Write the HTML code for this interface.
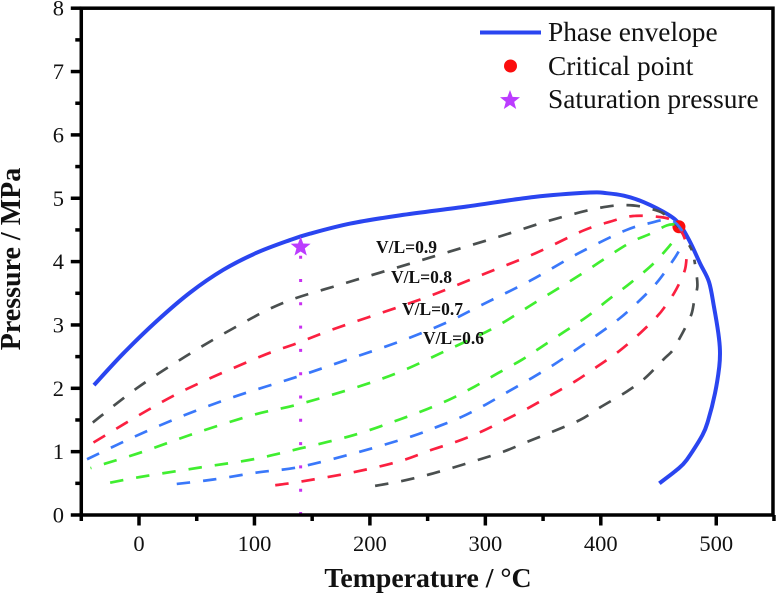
<!DOCTYPE html>
<html lang="en">
<head>
<meta charset="utf-8">
<title>Phase envelope chart</title>
<style>
html,body{margin:0;padding:0;background:#fff;}
#chart{display:block;width:776px;height:593px;font-family:"Liberation Serif",serif;}
</style>
</head>
<body>
<svg id="chart" xmlns="http://www.w3.org/2000/svg" width="776" height="593" viewBox="0 0 776 593">
  <rect x="0" y="0" width="776" height="593" fill="#ffffff"/>
  <g id="series" fill="none"></g>
  <g id="axes"></g>
  <g font-size="17.5" font-weight="bold" fill="#111">
    <text x="376" y="253">V/L=0.9</text>
    <text x="391" y="283">V/L=0.8</text>
    <text x="402" y="315">V/L=0.7</text>
    <text x="423" y="344">V/L=0.6</text>
  </g>
  <text x="428" y="587" font-size="27.8" font-weight="bold" text-anchor="middle" fill="#111">Temperature / °C</text>
  <text transform="translate(20,259) rotate(-90)" font-size="28" font-weight="bold" text-anchor="middle" fill="#111">Pressure / MPa</text>
  <g font-size="27.4" fill="#111">
    <line x1="480" y1="32.5" x2="541" y2="32.5" stroke="#2a45f0" stroke-width="4"/>
    <text x="548" y="41">Phase envelope</text>
    <circle cx="510.5" cy="66" r="6.5" fill="#fb0d0d"/>
    <text x="548" y="75">Critical point</text>
    <polygon id="legend-star" fill="#bb3cff"/>
    <text x="548" y="108">Saturation pressure</text>
  </g>
</svg>
<script>
// ---- chart data (temperature in deg C, pressure in MPa) ----
const xTicks = [0, 100, 200, 300, 400, 500];
const xMinorTicks = [-50, 50, 150, 250, 350, 450, 550];
const yTicks = [0, 1, 2, 3, 4, 5, 6, 7, 8];
const yMinorTicks = [0.5, 1.5, 2.5, 3.5, 4.5, 5.5, 6.5, 7.5];

const envelopeT = [-39,-13.6,15.3,44.2,73,102,130.8,148,183,226,284,342,391,405,420,437,458.5,468.6,477.3,486,493.7,498,501.8,503.2,502.6,498.9,493.1,488,474.4,465.7,450.7];
const envelopeP = [2.05,2.55,3.06,3.51,3.87,4.14,4.34,4.44,4.6,4.73,4.87,5.02,5.09,5.08,5.04,4.94,4.74,4.58,4.31,3.97,3.68,3.29,2.87,2.6,2.34,1.92,1.5,1.26,0.87,0.71,0.5];

const grayUpperT = [-40,-2,40,82,125,175,226,269.5,313,356,399.5,425.5,448,457,467,479];
const grayUpperP = [1.46,2.0,2.5,2.95,3.35,3.64,3.92,4.16,4.4,4.65,4.85,4.89,4.81,4.72,4.55,4.18];
const grayLowerT = [204.5,226,249.3,272.4,293.8,315.7,337,358.8,382,399.5,422.6,438.3,454,462.3,468.6,473.5,478.7,481,483.6,483,481];
const grayLowerP = [0.46,0.53,0.63,0.75,0.87,1.0,1.16,1.32,1.5,1.7,1.95,2.16,2.45,2.6,2.8,2.97,3.18,3.39,3.6,3.79,4.03];

const redUpperT = [-50,-38,2.3,42.7,105,136.6,171,226,258,301,343.2,384.8,408,428,453,463,470,474];
const redUpperP = [1.04,1.16,1.6,2.0,2.5,2.71,2.95,3.29,3.5,3.82,4.13,4.49,4.63,4.72,4.7,4.63,4.47,4.3];
const redLowerT = [118,141,187,226,253.6,275.3,297,317,337.4,357.6,377.8,396.6,415.4,434,449,456,463.4,468.6,473,474.4];
const redLowerP = [0.47,0.53,0.68,0.85,1.03,1.16,1.32,1.5,1.69,1.9,2.11,2.34,2.58,2.87,3.14,3.3,3.5,3.68,3.88,4.08];

const blueUpperT = [-45,-3.5,40,83,136.6,180,226,266.6,298.4,340,380.6,421,443,460,470,472];
const blueUpperP = [0.88,1.24,1.58,1.87,2.18,2.45,2.74,3.04,3.33,3.71,4.13,4.49,4.61,4.66,4.5,4.35];
const blueLowerT = [32.7,64.4,102,139.5,191.5,236,258,279.6,300,320,340,359,377.8,396.6,415.4,432.7,448.6,463,468];
const blueLowerP = [0.49,0.56,0.67,0.76,1.0,1.24,1.39,1.55,1.74,1.95,2.16,2.37,2.6,2.84,3.09,3.37,3.67,4.03,4.18];

const greenUpperT = [-42,-29.5,3.7,48.5,99,136.6,185.7,226,266.6,307,344.6,382,422.6,443,457,465,469];
const greenUpperP = [0.74,0.81,1.0,1.29,1.58,1.74,2.0,2.26,2.6,2.95,3.37,3.79,4.27,4.44,4.57,4.58,4.5];
const greenLowerT = [-25,0.9,52.9,99,139.5,185.7,226,249.3,271,291,311,331.6,350,369,388,406.7,425.5,445.7,462];
const greenLowerP = [0.51,0.6,0.75,0.88,1.05,1.26,1.51,1.67,1.84,2.03,2.24,2.45,2.67,2.9,3.13,3.4,3.66,3.97,4.3];

const saturationT = [140, 140];
const saturationP = [0, 4.23];
const criticalPoint = [467.7, 4.55];

// ---- axis functions ----
const xScale = t => 139 + t * 1.1545;
const yScale = p => 515 - p * 63.35;
const NS = 'http://www.w3.org/2000/svg';

function make(tag, attrs, parent) {
  const el = document.createElementNS(NS, tag);
  for (const k in attrs) el.setAttribute(k, attrs[k]);
  parent.appendChild(el);
  return el;
}

function smoothPath(ts, ps) {
  const pts = ts.map((t, i) => [xScale(t), yScale(ps[i])]);
  let d = 'M' + pts[0][0].toFixed(2) + ' ' + pts[0][1].toFixed(2);
  const k = 1 / 6;
  for (let i = 0; i < pts.length - 1; i++) {
    const p0 = pts[Math.max(i - 1, 0)], p1 = pts[i], p2 = pts[i + 1], p3 = pts[Math.min(i + 2, pts.length - 1)];
    const c1x = p1[0] + (p2[0] - p0[0]) * k, c1y = p1[1] + (p2[1] - p0[1]) * k;
    const c2x = p2[0] - (p3[0] - p1[0]) * k, c2y = p2[1] - (p3[1] - p1[1]) * k;
    d += 'C' + c1x.toFixed(2) + ' ' + c1y.toFixed(2) + ' ' + c2x.toFixed(2) + ' ' + c2y.toFixed(2) + ' ' + p2[0].toFixed(2) + ' ' + p2[1].toFixed(2);
  }
  return d;
}

function starPoints(cx, cy, R) {
  const r = R * 0.42, out = [];
  for (let i = 0; i < 10; i++) {
    const a = -Math.PI / 2 + i * Math.PI / 5, q = i % 2 ? r : R;
    out.push((cx + q * Math.cos(a)).toFixed(2) + ',' + (cy + q * Math.sin(a)).toFixed(2));
  }
  return out.join(' ');
}

// ---- series ----
const seriesGroup = document.getElementById('series');
const DASH = '13.5 13';
const GRAY = '#4a4f4f', RED = '#fb2040', BLUE = '#3a78fa', GREEN = '#40ee30';

const envelopePath = make('path', {d: smoothPath(envelopeT, envelopeP), stroke: '#2a45f0', 'stroke-width': 4, 'stroke-linejoin': 'round'}, seriesGroup);



const criticalMarker = make('circle', {cx: xScale(criticalPoint[0]), cy: yScale(criticalPoint[1]), r: 6.5, fill: '#fb0d0d'}, seriesGroup);



const grayUpper = make('path', {d: smoothPath(grayUpperT, grayUpperP), stroke: GRAY, 'stroke-width': 2.7, 'stroke-dasharray': DASH}, seriesGroup);



const grayLower = make('path', {d: smoothPath(grayLowerT, grayLowerP), stroke: GRAY, 'stroke-width': 2.7, 'stroke-dasharray': DASH}, seriesGroup);



const redUpper = make('path', {d: smoothPath(redUpperT, redUpperP), stroke: RED, 'stroke-width': 2.7, 'stroke-dasharray': DASH, 'stroke-dashoffset': 12.5}, seriesGroup);



const redLower = make('path', {d: smoothPath(redLowerT, redLowerP), stroke: RED, 'stroke-width': 2.7, 'stroke-dasharray': DASH}, seriesGroup);



const blueUpper = make('path', {d: smoothPath(blueUpperT, blueUpperP), stroke: BLUE, 'stroke-width': 2.7, 'stroke-dasharray': DASH}, seriesGroup);



const blueLower = make('path', {d: smoothPath(blueLowerT, blueLowerP), stroke: BLUE, 'stroke-width': 2.7, 'stroke-dasharray': DASH}, seriesGroup);



const greenUpper = make('path', {d: smoothPath(greenUpperT, greenUpperP), stroke: GREEN, 'stroke-width': 2.7, 'stroke-dasharray': DASH, 'stroke-dashoffset': 12.5}, seriesGroup);



const greenLower = make('path', {d: smoothPath(greenLowerT, greenLowerP), stroke: GREEN, 'stroke-width': 2.7, 'stroke-dasharray': DASH}, seriesGroup);



const saturationLine = make('line', {x1: xScale(saturationT[0]), y1: yScale(saturationP[0]), x2: xScale(saturationT[1]), y2: yScale(saturationP[1]), stroke: '#c830f0', 'stroke-width': 3, 'stroke-dasharray': '3 20.3'}, seriesGroup);



const saturationStar = make('polygon', {points: starPoints(xScale(saturationT[1]), yScale(saturationP[1]), 10.5), fill: '#bb3cff'}, seriesGroup);



document.getElementById('legend-star').setAttribute('points', starPoints(510, 100.5, 10.5));

// ---- axes ----
const axesGroup = document.getElementById('axes');
const LEFT = xScale(-50), RIGHT = xScale(550) - 1, TOP = yScale(8), BOTTOM = yScale(0);

const frame = make('rect', {x: LEFT, y: TOP, width: RIGHT - LEFT, height: BOTTOM - TOP, fill: 'none', stroke: '#000', 'stroke-width': 3.5}, axesGroup);



xTicks.forEach(t => {
  const tick = make('line', {x1: xScale(t), x2: xScale(t), y1: BOTTOM, y2: BOTTOM + 10.5, stroke: '#000', 'stroke-width': 3.5}, axesGroup);
  
  
  const label = make('text', {x: xScale(t), y: 551, 'text-anchor': 'middle', 'font-size': 22.5, fill: '#111'}, axesGroup);
  
  
  label.textContent = t;
});
xMinorTicks.forEach(t => {
  const tick = make('line', {x1: xScale(t), x2: xScale(t), y1: BOTTOM, y2: BOTTOM + 6, stroke: '#000', 'stroke-width': 3.5}, axesGroup);
  
  
});
yTicks.forEach(p => {
  const tick = make('line', {x1: LEFT - 10.5, x2: LEFT, y1: yScale(p), y2: yScale(p), stroke: '#000', 'stroke-width': 3.5}, axesGroup);
  
  
  const label = make('text', {x: 64, y: yScale(p) + 7.5, 'text-anchor': 'end', 'font-size': 22.5, fill: '#111'}, axesGroup);
  
  
  label.textContent = p;
});
yMinorTicks.forEach(p => {
  const tick = make('line', {x1: LEFT - 6, x2: LEFT, y1: yScale(p), y2: yScale(p), stroke: '#000', 'stroke-width': 3.5}, axesGroup);
  
  
});
</script>
</body>
</html>
